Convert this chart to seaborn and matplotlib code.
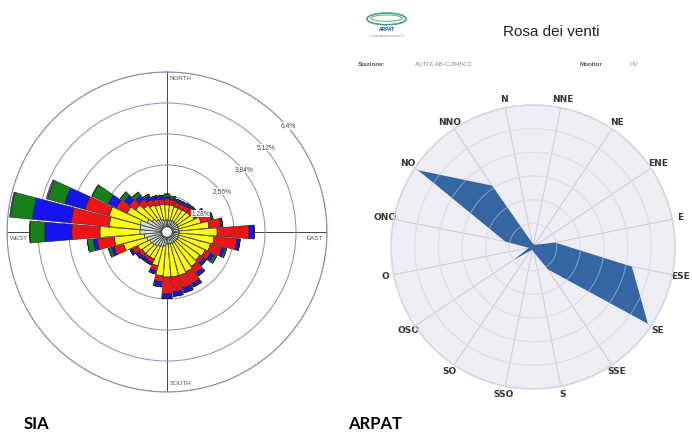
import numpy as np
import matplotlib
matplotlib.use("Agg")
import matplotlib.pyplot as plt
from matplotlib.patches import Ellipse
import seaborn as sns

# SIA wind rose - 36 sectors of 10 deg, frequency (%) for each speed class
sia_directions = np.arange(0, 360, 10)
sia_class_1 = [0.29, 0.29, 0.29, 0.29, 0.29, 0.29, 0.29, 0.29, 0.29, 0.29, 0.29, 0.29,
               0.29, 0.29, 0.29, 0.29, 0.29, 0.29, 0.29, 0.37, 0.41, 0.45, 0.50, 0.54,
               0.58, 0.66, 0.74, 0.91, 0.91, 0.95, 0.70, 0.54, 0.41, 0.37, 0.33, 0.29]
sia_class_2 = [0.62, 0.62, 0.58, 0.58, 0.62, 0.66, 0.74, 0.95, 1.24, 1.57, 1.45, 1.36,
               1.24, 1.16, 1.24, 1.32, 1.36, 1.36, 1.36, 1.24, 0.83, 0.58, 0.54, 0.50,
               0.54, 0.99, 1.24, 1.65, 1.28, 1.32, 0.91, 0.83, 0.74, 0.66, 0.62, 0.66]
sia_class_3 = [0.25, 0.21, 0.21, 0.21, 0.21, 0.25, 0.41, 0.45, 0.50, 1.32, 0.95, 0.50,
               0.25, 0.17, 0.33, 0.54, 0.54, 0.62, 0.70, 0.25, 0.21, 0.17, 0.12, 0.17,
               0.25, 0.41, 0.70, 1.16, 1.57, 1.03, 0.50, 0.33, 0.29, 0.25, 0.25, 0.21]
sia_class_4 = [0.08, 0.08, 0.08, 0.08, 0.08, 0.04, 0.04, 0.04, 0.04, 0.21, 0.12, 0.12,
               0.17, 0.12, 0.12, 0.12, 0.17, 0.17, 0.17, 0.17, 0.12, 0.08, 0.12, 0.12,
               0.08, 0.12, 0.17, 1.12, 1.61, 0.87, 0.37, 0.25, 0.21, 0.17, 0.12, 0.12]
sia_class_5 = [0.12, 0.08, 0.04, 0.04, 0.04, 0.04, 0.04, 0.04, 0.04, 0.00, 0.02, 0.08,
               0.12, 0.04, 0.04, 0.04, 0.04, 0.02, 0.02, 0.04, 0.02, 0.02, 0.02, 0.02,
               0.04, 0.12, 0.25, 0.62, 0.91, 0.74, 0.74, 0.21, 0.17, 0.08, 0.04, 0.04]
sia_class_6 = [0, 0, 0, 0, 0, 0, 0, 0, 0, 0, 0, 0,
               0, 0, 0, 0, 0, 0, 0, 0, 0, 0, 0, 0,
               0, 0, 0, 0, 0.04, 0.06, 0.02, 0, 0, 0, 0, 0]
sia_classes = [sia_class_1, sia_class_2, sia_class_3, sia_class_4, sia_class_5, sia_class_6]
sia_colors = ['#d3e2d8', '#ffff14', '#f21414', '#1414f0', '#16801a', '#9a3cc8']
sia_rings = [1.28, 2.56, 3.84, 5.12, 6.4]
sia_ring_labels = ['1,28%', '2,56%', '3,84%', '5,12%', '6,4%']

# ARPAT rose - 16 sectors
arpat_labels = ['N', 'NNE', 'NE', 'ENE', 'E', 'ESE', 'SE', 'SSE',
                'S', 'SSO', 'SO', 'OSO', 'O', 'ONO', 'NO', 'NNO']
arpat_values = [0.9, 0.6, 0.6, 0.9, 4.8, 21.3, 29.2, 5.7,
                1.2, 0.6, 0.9, 4.8, 0.9, 6.0, 29.2, 15.6]
arpat_rings = [5, 10, 15, 20, 25]

sns.set_theme(style="white")
plt.rcParams['font.family'] = ['Liberation Sans', 'DejaVu Sans']

fig = plt.figure(figsize=(6.92, 4.32), dpi=100)

#Chart 1 - SIA wind rose (stacked bars)
ax1 = fig.add_axes([7/692, 40/432, 320/692, 320/432], projection='polar')
ax1.set_theta_zero_location('N')
ax1.set_theta_direction(-1)
theta = np.deg2rad(sia_directions)
bottom = np.zeros(len(theta))
for values, colour in zip(sia_classes, sia_colors):
    ax1.bar(theta, values, width=np.deg2rad(9.2), bottom=bottom, color=colour,
            edgecolor='#202020', linewidth=0.4, zorder=3)
    bottom = bottom + np.array(values)
ax1.set_ylim(0, 6.4)
ax1.set_rorigin(-0.21)
ax1.set_rgrids(sia_rings, labels=[''] * len(sia_rings))
ax1.set_thetagrids([0, 90, 180, 270], labels=[''] * 4)
ax1.grid(axis='y', color='#8c8cab', linewidth=0.7)
ax1.grid(axis='x', color='#3d3d5e', linewidth=0.7)
ax1.spines['polar'].set_color('#8c8cab')
ax1.spines['polar'].set_linewidth(0.8)
ax1.spines['inner'].set_color('#777777')
ax1.spines['inner'].set_linewidth(0.6)
ax1.set_facecolor('white')
for v, lab in zip(sia_rings, sia_ring_labels):
    ax1.annotate(lab, xy=(np.deg2rad(45), v), xytext=(5.8, -5), textcoords='offset points',
                 ha='center', va='center', fontsize=4.8, color='#444444', zorder=5,
                 bbox=dict(fc='white', ec='none', pad=0.2))
# compass names
ax1.text(0.509, 0.981, 'NORTH', transform=ax1.transAxes, fontsize=4.5, color='#555555', ha='left', va='center')
ax1.text(0.509, 0.028, 'SOUTH', transform=ax1.transAxes, fontsize=4.5, color='#555555', ha='left', va='center')
ax1.text(0.9875, 0.481, 'EAST', transform=ax1.transAxes, fontsize=4.5, color='#555555', ha='right', va='center')
ax1.text(0.009, 0.481, 'WEST', transform=ax1.transAxes, fontsize=4.5, color='#555555', ha='left', va='center')

#Chart 2 - ARPAT rose (filled polygon)
ax2 = fig.add_axes([391/692, 43/432, 284/692, 284/432], projection='polar')
ax2.set_theta_zero_location('N', offset=11.25)
ax2.set_theta_direction(-1)
arpat_theta = np.deg2rad(np.arange(0, 360, 22.5))
ax2.fill(np.append(arpat_theta, arpat_theta[0]), arpat_values + arpat_values[:1],
         color='#3565a3', linewidth=0, zorder=2)
for v in arpat_rings:
    ax2.plot(np.linspace(0, 2 * np.pi, 200), np.full(200, v), color='white',
             alpha=0.35, linewidth=0.8, zorder=3)
ax2.set_ylim(0, 30)
ax2.set_rgrids(arpat_rings, labels=[''] * len(arpat_rings))
ax2.set_thetagrids(np.arange(0, 360, 22.5), arpat_labels)
ax2.set_facecolor('#ededf3')
ax2.grid(color='#cfcfd7', linewidth=0.8)
ax2.spines['polar'].set_color('#d6d6de')
ax2.tick_params(axis='x', pad=-7)
for lbl in ax2.get_xticklabels():
    lbl.set_fontfamily('DejaVu Sans')
    lbl.set_fontweight('bold')
    lbl.set_fontsize(6.5)
    lbl.set_color('#333333')

# ARPAT header
logo = fig.add_axes([355/692, 1 - 47/432, 63/692, 39/432])
logo.set_xlim(0, 1)
logo.set_ylim(0, 1)
logo.axis('off')
logo.add_patch(Ellipse((0.5, 0.72), 0.62, 0.3, fill=False, ec='#3aa0a0', lw=1.2))
logo.add_patch(Ellipse((0.5, 0.74), 0.5, 0.16, fill=False, ec='#6cbf5a', lw=0.8))
logo.text(0.5, 0.45, 'ARPAT', ha='center', va='center', fontsize=3.5, color='#1f3f7f', fontweight='bold')
logo.text(0.5, 0.28, 'Agenzia regionale per la protezione\nambientale della Toscana', ha='center',
          va='center', fontsize=1.6, color='#777777')

fig.text(551/692, 1 - 32/432, 'Rosa dei venti', fontsize=11, color='#222222', ha='center', va='center')
fig.text(358/692, 1 - 64/432, 'Stazione:', fontsize=4.5, color='#555555', fontweight='bold', ha='left', va='center')
fig.text(415/692, 1 - 64/432, 'AUTOLAB-CJ845CC', fontsize=4.5, color='#888888', ha='left', va='center')
fig.text(580/692, 1 - 64/432, 'Monitor', fontsize=4.5, color='#555555', fontweight='bold', ha='left', va='center')
fig.text(630/692, 1 - 64/432, 'DV', fontsize=4.5, color='#888888', ha='left', va='center')

# Captions
fig.text(24/692, 1 - 424/432, 'SIA', fontsize=12, fontweight='bold', family=['Lato', 'DejaVu Sans'],
         color='black', ha='left', va='center')
fig.text(348/692, 1 - 424/432, 'ARPAT', fontsize=12, fontweight='bold', family=['Lato', 'DejaVu Sans'],
         color='black', ha='left', va='center')

plt.savefig("out.png", dpi=100)
